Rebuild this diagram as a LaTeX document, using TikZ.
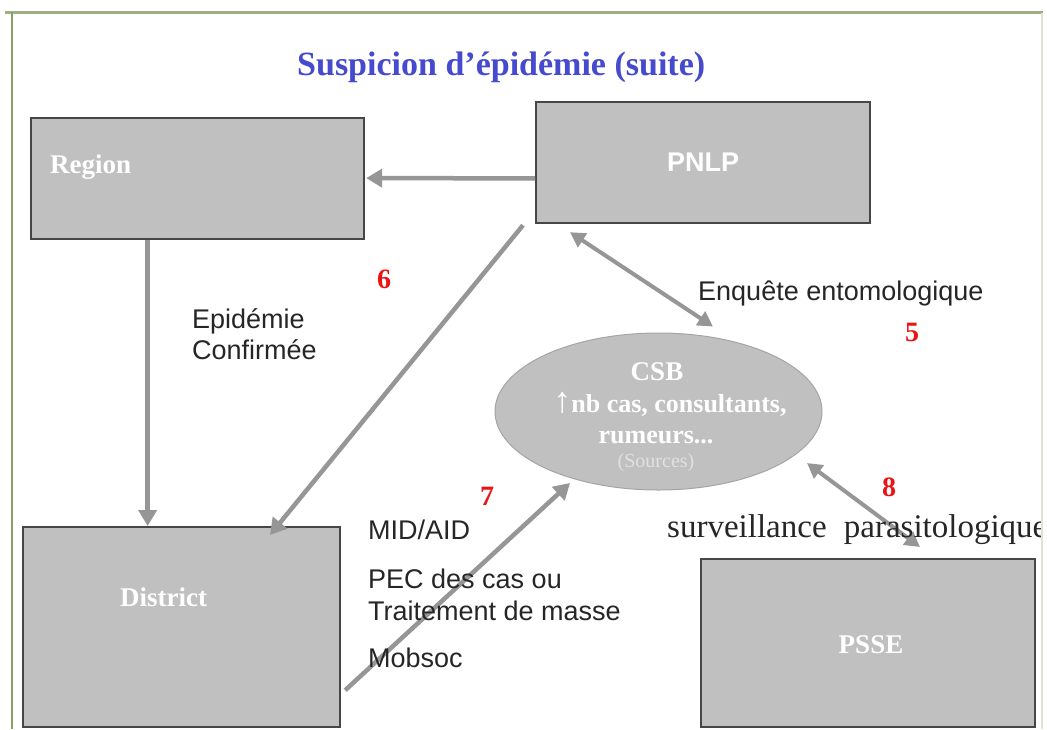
\documentclass[tikz,border=0pt]{standalone}
\usepackage{fontspec}
\setmainfont{Liberation Serif}
\setsansfont{Liberation Sans}
\usetikzlibrary{arrows.meta,shapes.geometric,calc}
\definecolor{boxgray}{RGB}{192,192,192}
\definecolor{edgegray}{RGB}{70,70,70}
\definecolor{ellgray}{RGB}{165,165,165}
\definecolor{arrgray}{RGB}{150,150,150}
\definecolor{titleblue}{RGB}{70,75,205}
\definecolor{numred}{RGB}{235,20,20}
\definecolor{frameolive}{RGB}{160,175,130}
\definecolor{frameleft}{RGB}{135,160,100}
\definecolor{framelight}{RGB}{222,226,215}
\definecolor{srcgray}{RGB}{225,225,225}
\begin{document}
\begin{tikzpicture}[x=1pt,y=-1pt,
  box/.style={draw=edgegray, line width=2.2pt, fill=boxgray, inner sep=0pt, anchor=north west},
  arr/.style={draw=arrgray, line width=4.5pt, -{Triangle[length=16pt,width=18pt]}},
  darr/.style={draw=arrgray, line width=4pt, {Triangle[length=15pt,width=16pt]}-{Triangle[length=15pt,width=16pt]}},
  wtext/.style={inner sep=0pt, text=white, font=\bfseries\fontsize{27}{32}\selectfont},
  sftext/.style={inner sep=0pt, anchor=base west, text=black!85, font=\sffamily\fontsize{27}{31}\selectfont},
  num/.style={inner sep=0pt, anchor=base west, text=numred, font=\bfseries\fontsize{28}{32}\selectfont}
]
\useasboundingbox (0,0) rectangle (1047,729);
\fill[white] (0,0) rectangle (1047,729);
% frame
\draw[frameolive, line width=3pt] (5,12) -- (1043,12);
\draw[frameleft, line width=2.5pt] (12,12) -- (12,729);
\draw[framelight, line width=2pt] (1042,13) -- (1042,729);

% title
\node[inner sep=0pt, anchor=base west, text=titleblue, font=\bfseries\fontsize{34}{38}\selectfont] (title) at (297,75) {Suspicion d’épidémie (suite)};

% boxes
\node[box, minimum width=333pt, minimum height=121pt] (region) at (30,117) {};
\node[box, minimum width=334pt, minimum height=121pt, text=white, font=\sffamily\bfseries\fontsize{27}{32}\selectfont] (pnlp) at (535,101) {PNLP};
\node[box, minimum width=317pt, minimum height=200pt] (district) at (22,526) {};
\node[box, minimum width=334pt, minimum height=168pt] (psse) at (700,558) {};
\node[draw=ellgray, line width=1pt, fill=boxgray, ellipse, minimum width=327pt, minimum height=157pt, inner sep=0pt] (csb) at (658.5,411.5) {};

% box labels
\node[wtext, anchor=base west] (regionlbl) at (50,173) {Region};
\node[wtext, anchor=base west] (districtlbl) at (120,606) {District};
\node[wtext, anchor=base] (psselbl) at (871,653) {PSSE};
\node[wtext, anchor=base] (csblbl) at (657,380) {CSB};
\node[wtext, anchor=base, font=\bfseries\fontsize{26}{30}\selectfont] (csbl2) at (670,412) {{\fontsize{36}{36}\selectfont ↑}nb cas, consultants,};
\node[wtext, anchor=base, font=\bfseries\fontsize{26}{30}\selectfont] (csbl3) at (656,443) {rumeurs...};
\node[inner sep=0pt, anchor=base, text=srcgray, font=\fontsize{20}{24}\selectfont] (csbl4) at (656,467) {(Sources)};

% connectors
\draw[arr, shorten >=1pt] ($(pnlp.north west)!0.628!(pnlp.south west)$) -- ($(region.north east)!0.496!(region.south east)$);
\draw[arr] ($(region.south west)!0.351!(region.south east)$) coordinate (rd) -- (rd |- district.north);
\draw[arr] ($(pnlp.south west)+(-12,1)$) -- ($(district.north west)+(248,9)$);
\draw[darr] ($(pnlp.south west)+(35,8)$) -- ($(csb.north)+(54.5,-6)$);
\draw[arr] ($(district.south east)+(4,-38)$) -- ($(csb.center)+(-88.5,71.5)$);
\draw[darr] ($(csb.center)+(148.5,51.5)$) -- ($(psse.north west)+(220,-11)$);

% text labels
\node[sftext] (epi1) at (192,328) {Epidémie};
\node[sftext] (epi2) at (192,359) {Confirmée};
\node[sftext] (enq) at (698,300) {Enquête entomologique};
\node[sftext] (mid) at (368,539) {MID/AID};
\node[sftext] (pec1) at (368,588) {PEC des cas ou};
\node[sftext] (pec2) at (368,620) {Traitement de masse};
\node[sftext] (mob) at (368,667) {Mobsoc};

\begin{scope}
\clip (0,0) rectangle (1040,729);
\node[inner sep=0pt, anchor=base west, text=black!85, font=\fontsize{33}{38}\selectfont] (surv) at (667,537) {surveillance\hspace{9pt} parasitologique};
\end{scope}

% step numbers
\node[num] (n6) at (377,288) {6};
\node[num] (n5) at (905,341) {5};
\node[num] (n7) at (480,505) {7};
\node[num] (n8) at (882,496) {8};
\end{tikzpicture}
\end{document}
